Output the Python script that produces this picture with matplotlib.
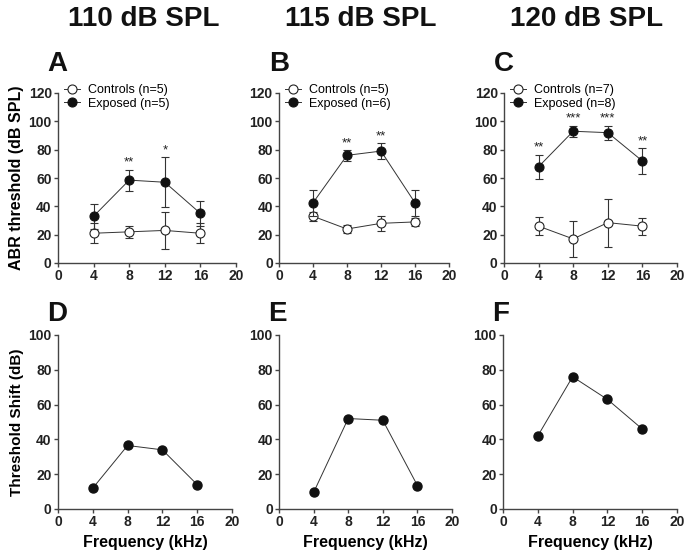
from matplotlib import pyplot as plt
from matplotlib.lines import Line2D
import numpy as np

plt.rcParams["font.family"] = "Liberation Sans"
plt.rcParams["font.size"] = 8
plt.rcParams["axes.linewidth"] = 1.0

freq = [4, 8, 12, 16]

# 上排: ABR threshold (mean, error)
ctrl_a = [21, 22, 23, 21]
ctrl_a_err = [7, 4, 13, 7]
exp_a = [33, 58.5, 57, 35]
exp_a_err = [9, 7.5, 17.5, 9]
stars_a = ["", "**", "*", ""]

ctrl_b = [33, 24, 28, 29]
ctrl_b_err = [3, 3, 5.5, 3]
exp_b = [42.5, 76, 79, 42.5]
exp_b_err = [9, 4, 5.5, 9]
stars_b = ["", "**", "**", ""]

ctrl_c = [26, 17, 28.5, 26]
ctrl_c_err = [6.5, 13, 17, 6]
exp_c = [68, 93, 92, 72]
exp_c_err = [8.5, 4, 5, 9]
stars_c = ["**", "***", "***", "**"]

n_ctrl = [5, 5, 7]
n_exp = [5, 6, 8]

# 下排: threshold shift
shift_d = [12, 36.5, 34, 14]
shift_e = [9.5, 52, 51, 13.5]
shift_f = [42, 76, 63, 46]

titles = ["110 dB SPL", "115 dB SPL", "120 dB SPL"]

W, H = 691, 558
fig = plt.figure(figsize=(W/100, H/100), dpi=100)

top_x = [(58, 236), (279, 449), (504, 677)]
bot_x = [(58, 232), (279, 452), (503, 677)]

def box(x0, x1, ytop, ybot):
    return [x0/W, 1-ybot/H, (x1-x0)/W, (ybot-ytop)/H]

def style(ax, ymax):
    for s in ["top", "right"]:
        ax.spines[s].set_visible(False)
    for s in ["left", "bottom"]:
        ax.spines[s].set_color("#444444")
    ax.set_xlim(0, 20)
    ax.set_ylim(0, ymax)
    ax.set_xticks([0, 4, 8, 12, 16, 20])
    ax.set_yticks(np.arange(0, ymax+1, 20))
    ax.tick_params(direction="out", length=3, width=1, color="#444444", pad=1.5)
    for lab in ax.get_xticklabels() + ax.get_yticklabels():
        lab.set_fontweight("bold")
        lab.set_fontsize(10)
        lab.set_color("#222222")

top = [(ctrl_a, ctrl_a_err, exp_a, exp_a_err, stars_a),
       (ctrl_b, ctrl_b_err, exp_b, exp_b_err, stars_b),
       (ctrl_c, ctrl_c_err, exp_c, exp_c_err, stars_c)]
letters_top = ["A", "B", "C"]
letters_bot = ["D", "E", "F"]

for i in range(3):
    c, ce, e, ee, st = top[i]
    ax = fig.add_axes(box(top_x[i][0], top_x[i][1], 93, 263))
    ax.errorbar(freq, c, yerr=ce, fmt="-o", color="#333333", lw=0.7, elinewidth=0.8,
                capsize=3, capthick=0.8, ms=6.5, mfc="white", mec="#222222", mew=0.8,
                zorder=3)
    ax.errorbar(freq, e, yerr=ee, fmt="-o", color="#333333", lw=0.7, elinewidth=0.8,
                capsize=3, capthick=0.8, ms=6.5, mfc="#111111", mec="#111111", mew=0.8,
                zorder=4)
    for f, v, err, s in zip(freq, e, ee, st):
        if s:
            ax.text(f, v+err+0.5, s, ha="center", va="bottom", fontsize=9.5, color="#222222")
    style(ax, 120)
    handles = [Line2D([], [], color="#333333", lw=0.7, marker="o", ms=6.5, mfc="white",
                      mec="#222222", mew=0.8),
               Line2D([], [], color="#333333", lw=0.7, marker="o", ms=6.5, mfc="#111111",
                      mec="#111111", mew=0.8)]
    ax.legend(handles, ["Controls (n=%d)" % n_ctrl[i], "Exposed (n=%d)" % n_exp[i]],
              loc="upper left", bbox_to_anchor=(0.02, 1.065), frameon=False, fontsize=9,
              handlelength=1.3, handletextpad=0.6, borderaxespad=0, labelspacing=0.1,
              borderpad=0.2)
    ax.text(-0.06, 1.17, letters_top[i], transform=ax.transAxes, fontsize=20,
            fontweight="bold", color="#111111", va="center", ha="left")
    fig.text((top_x[i][0]+top_x[i][1])/2/W - 0.005, 1-19/H, titles[i], fontsize=20,
             fontweight="bold", ha="center", va="center", color="#111111")
    if i == 0:
        ax.set_ylabel("ABR threshold (dB SPL)", fontsize=11.5, fontweight="bold", labelpad=3)

bottom = [shift_d, shift_e, shift_f]
for i in range(3):
    ax = fig.add_axes(box(bot_x[i][0], bot_x[i][1], 335, 509))
    ax.plot(freq, bottom[i], "-o", color="#333333", lw=0.7, ms=6.5, mfc="#111111",
            mec="#111111", zorder=3)
    style(ax, 100)
    ax.set_xlabel("Frequency (kHz)", fontsize=11.5, fontweight="bold", labelpad=4)
    ax.text(-0.06, 1.12, letters_bot[i], transform=ax.transAxes, fontsize=20,
            fontweight="bold", color="#111111", va="center", ha="left")
    if i == 0:
        ax.set_ylabel("Threshold Shift (dB)", fontsize=11, fontweight="bold", labelpad=3)

fig.savefig("out.png", dpi=100)
